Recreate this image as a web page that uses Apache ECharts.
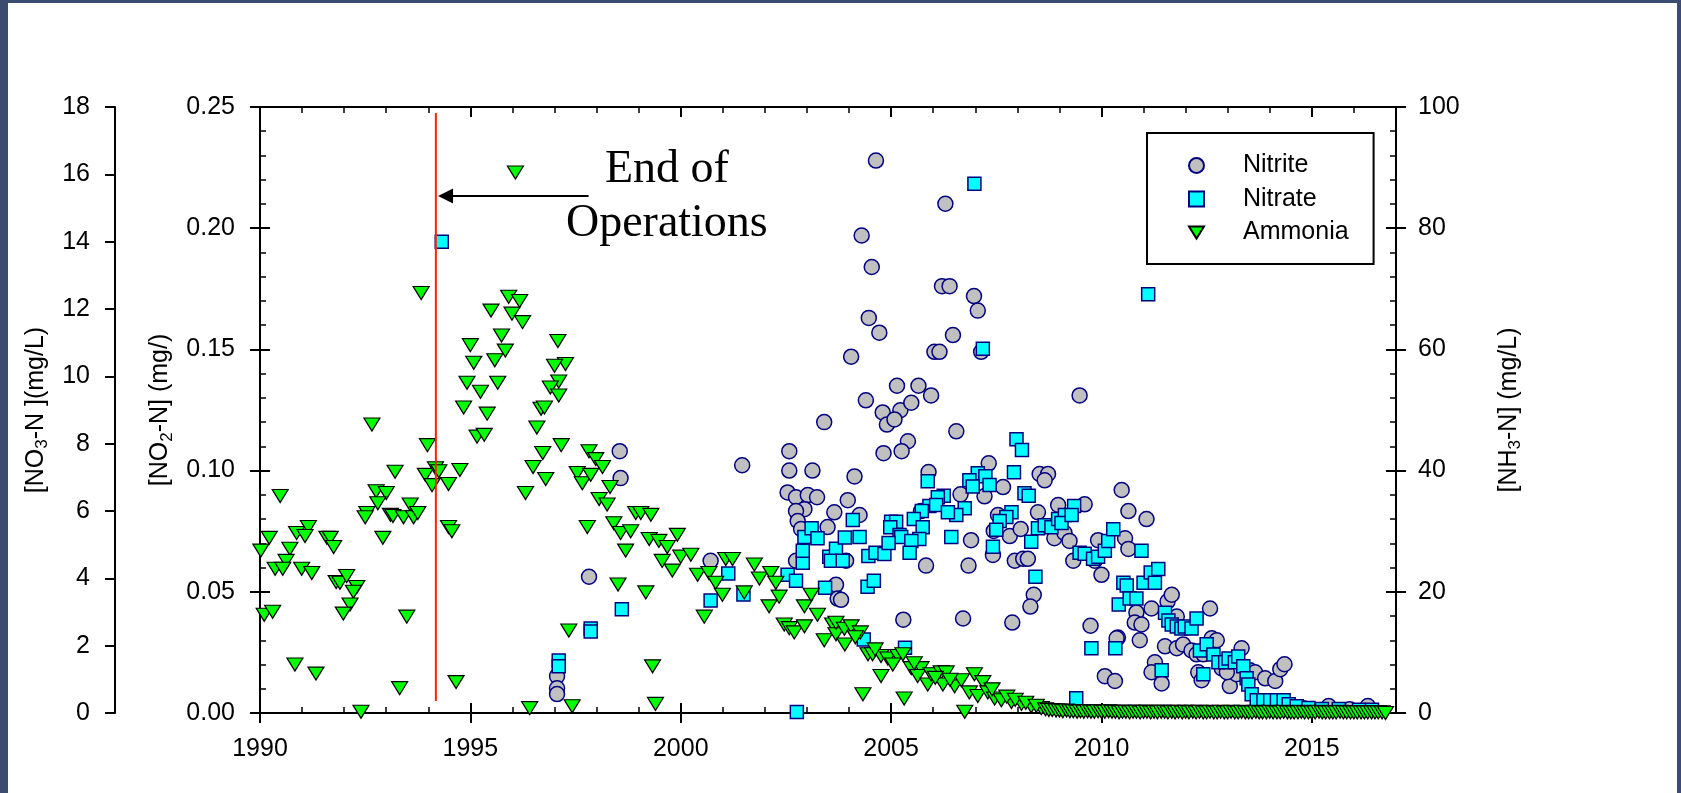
<!DOCTYPE html>
<html>
<head>
<meta charset="utf-8">
<script src="https://cdn.jsdelivr.net/npm/echarts@6/dist/echarts.min.js"></script>
<style>
html, body { margin: 0; padding: 0; width: 1681px; height: 793px; background: #3b4c70; overflow: hidden; }
#main { position: absolute; left: 8px; top: 3px; width: 1669px; height: 790px; background: #fff; }
</style>
</head>
<body>
<div id="main"></div>
<script>
// tick labels on the time axis
const yearTicks = [1990, 1995, 2000, 2005, 2010, 2015];

// [year, NO2-N mg/L]
const nitrite = [
  [1997.06,0.0152],[1997.06,0.0102],[1997.06,0.0078],[1997.82,0.0562],[1998.55,0.108],[1998.57,0.0969],
  [2000.71,0.0628],[2001.46,0.1022],[2002.58,0.108],[2002.58,0.100],[2003.13,0.100],[2002.54,0.091],
  [2002.74,0.089],[2003.02,0.0899],[2003.24,0.089],[2003.41,0.120],[2002.94,0.0841],[2002.74,0.0833],
  [2002.78,0.0792],[2003.49,0.0767],[2003.65,0.0828],[2002.86,0.0759],[2002.74,0.0628],[2003.69,0.0529],
  [2003.73,0.0472],
  [2004.64,0.2279],[2006.29,0.2101],[2004.30,0.1970],[2004.54,0.1840],[2006.21,0.1761],[2006.39,0.1761],
  [2006.97,0.1720],[2007.06,0.1660],[2004.47,0.1630],[2004.72,0.1569],[2006.47,0.1559],[2004.05,0.1470],
  [2006.03,0.1490],[2006.15,0.1490],[2007.14,0.1490],[2005.14,0.1350],[2005.65,0.1350],[2004.40,0.1290],
  [2005.95,0.1310],[2004.80,0.1240],[2005.22,0.1249],[2005.48,0.1280],[2004.90,0.1190],[2005.08,0.1211],
  [2005.40,0.1121],[2005.25,0.1080],[2004.82,0.1072],[2006.55,0.1162],[2009.48,0.1310],[2004.13,0.0976],
  [2005.89,0.0994],[2007.32,0.1030],[2008.53,0.0986],[2008.73,0.0986],[2008.65,0.0960],[2010.48,0.0920],
  [2010.64,0.0833],[2003.97,0.0878],[2004.25,0.0817],[2005.71,0.0833],[2006.65,0.0902],[2007.22,0.0894],
  [2007.66,0.0932],[2007.54,0.0817],[2008.49,0.0828],[2008.97,0.0858],[2009.60,0.0861],[2007.44,0.0751],
  [2007.82,0.0730],[2008.08,0.0759],[2006.90,0.0713],[2008.88,0.0721],[2009.12,0.0743],[2009.24,0.0710],
  [2009.92,0.0713],[2010.56,0.0721],[2010.64,0.0677],[2007.42,0.0652],[2007.94,0.0628],[2008.14,0.0636],
  [2008.25,0.0636],[2009.33,0.0628],[2009.84,0.0628],[2010.00,0.0570],[2005.83,0.0608],[2006.84,0.0608],
  [2003.93,0.0628],[2003.81,0.0467],[2008.39,0.0488],[2008.31,0.0439],[2005.29,0.0385],[2006.71,0.0390],
  [2007.88,0.0373],[2009.74,0.0360],[2010.39,0.0311],[2010.08,0.0152],[2010.32,0.0132],
  [2011.07,0.0800],[2010.83,0.0415],[2010.79,0.0373],[2010.95,0.0365],[2010.91,0.0300],[2010.36,0.0308],
  [2011.19,0.0431],[2011.27,0.0209],[2011.19,0.0168],[2011.43,0.0122],[2011.57,0.0460],[2011.67,0.0488],
  [2011.51,0.0275],[2011.79,0.0267],[2011.79,0.0398],[2011.94,0.0283],[2012.14,0.0258],[2012.26,0.0242],
  [2012.42,0.0242],[2012.58,0.0431],[2012.62,0.0308],[2012.74,0.0300],[2012.30,0.0168],[2012.38,0.0135],
  [2013.05,0.0111],[2013.21,0.0160],[2013.33,0.0267],[2012.86,0.0184],[2012.98,0.0168],[2013.53,0.0176],
  [2013.65,0.0168],[2013.89,0.0143],[2014.13,0.0132],[2014.25,0.0181],[2014.35,0.0201],[2014.80,0.0020],
  [2015.40,0.0029],[2015.90,0.0015],[2016.33,0.0029]
];

// [year, NO3-N mg/L]
const nitrate = [
  [1994.32,14.0],
  [1997.10,1.56],[1997.10,1.39],[1997.86,2.51],[1997.86,2.42],[1998.60,3.08],[2000.71,3.34],[2001.13,4.14],
  [2001.49,3.52],[2002.76,0.03],[2002.54,4.11],[2002.74,3.93],[2002.90,4.46],[2002.90,4.82],[2002.94,5.23],
  [2003.11,5.49],[2003.25,5.19],[2003.43,3.72],[2003.53,4.64],[2003.69,4.88],[2003.57,4.52],
  [2006.98,15.72],[2007.18,10.82],[2007.98,8.13],[2008.11,7.81],[2007.92,7.15],[2005.87,6.88],[2007.06,7.12],
  [2007.24,7.03],[2006.86,6.91],[2006.94,6.73],[2007.34,6.77],[2006.25,6.45],[2006.11,6.41],[2008.17,6.53],
  [2008.27,6.45],[2005.91,6.15],[2006.07,6.18],[2006.75,6.08],[2006.55,5.88],[2006.35,5.96],[2005.73,6.00],
  [2005.54,5.76],[2005.00,5.68],[2005.12,5.68],[2004.98,5.52],[2005.20,5.29],[2005.24,5.23],[2005.75,5.52],
  [2005.67,5.17],[2005.48,5.11],[2005.44,4.76],[2006.43,5.23],[2007.86,5.96],[2007.74,5.82],[2007.58,5.70],
  [2007.50,5.44],[2007.42,4.94],[2008.33,5.09],[2008.43,4.05],[2008.49,5.49],[2008.65,5.58],[2008.81,5.52],
  [2008.97,5.76],[2009.13,5.88],[2009.05,5.64],[2009.35,6.15],[2009.29,5.88],[2009.48,4.76],[2009.60,4.73],
  [2009.80,4.58],[2009.92,4.64],[2010.08,4.82],[2010.16,5.11],[2010.28,5.46],[2010.52,3.87],[2010.60,3.79],
  [2010.41,3.22],[2009.76,1.92],[2010.33,1.92],[2009.40,0.44],[2004.09,5.73],[2003.90,5.21],[2004.25,5.23],
  [2003.85,4.52],[2004.46,4.66],[2004.63,4.76],[2004.84,4.72],[2004.94,5.05],[2004.44,3.75],[2004.59,3.93],
  [2004.35,2.18],[2005.33,1.94],
  [2010.95,4.82],[2010.67,3.40],[2010.83,3.40],[2011.00,3.87],[2011.17,4.17],[2011.35,4.28],[2011.27,3.87],
  [2011.11,12.44],[2011.43,1.27],[2011.51,2.98],[2011.59,2.75],[2011.67,2.63],[2011.79,2.57],[2011.90,2.51],
  [2011.98,2.57],[2012.14,2.51],[2012.26,2.81],[2012.34,1.86],[2012.50,2.04],[2012.42,1.15],[2012.66,1.74],
  [2012.78,1.51],[2012.94,1.51],[2013.02,1.62],[2013.17,1.51],[2013.25,1.68],[2013.37,1.39],[2013.45,1.03],
  [2013.49,0.85],[2013.57,0.56],[2013.69,0.38],[2013.85,0.38],[2014.01,0.38],[2014.17,0.38],[2014.33,0.38],
  [2014.45,0.26],[2014.64,0.20],[2014.92,0.15],[2015.24,0.12],[2015.64,0.12],[2016.12,0.10],[2016.43,0.10]
];

// [year, NH3-N mg/L]
const ammonia = [
  [1996.07,89.2],[1993.83,69.3],[1995.49,66.4],[1995.91,68.7],[1996.17,68.0],[1995.99,65.9],[1996.24,64.5],
  [1995.74,62.3],[1995.00,60.7],[1995.83,59.8],[1995.08,57.8],[1995.58,58.2],[1994.92,54.5],[1995.65,54.5],
  [1995.24,53.0],[1994.84,50.4],[1995.40,49.4],[1995.16,45.6],[1995.33,45.9],[1992.66,47.6],[1993.98,44.2],
  [1993.21,39.8],[1993.93,39.3],[1994.17,40.4],[1994.25,39.9],[1994.09,37.6],[1994.48,37.8],[1994.75,40.1],
  [1992.76,36.6],[1993.00,36.3],[1992.80,34.6],[1992.54,33.0],[1992.50,32.3],[1993.10,32.7],[1993.16,32.5],
  [1993.41,32.3],[1993.57,34.4],[1993.65,32.3],[1993.75,33.0],[1992.92,28.9],[1990.48,35.8],[1990.02,26.8],
  [1990.22,28.9],[1990.87,29.7],[1991.15,30.7],[1991.07,29.2],[1990.71,27.1],[1990.62,25.1],[1990.36,23.8],
  [1990.54,23.8],[1990.99,23.8],[1991.23,23.1],[1991.59,28.9],[1991.67,28.9],[1991.75,27.4],[1991.81,21.6],
  [1991.90,21.5],[1992.06,22.6],[1992.30,20.8],[1992.22,20.0],[1992.14,17.9],[1991.98,16.4],[1990.10,16.2],
  [1990.30,16.7],[1993.49,15.9],[1990.83,8.0],[1991.33,6.5],[1993.32,4.1],[1994.66,5.1],[1992.40,0.2],
  [1996.41,0.8],[1994.48,30.7],[1994.56,30.0],[1996.68,50.2],[1996.58,47.1],[1996.49,40.6],[1996.72,42.9],
  [1996.79,38.6],[1996.31,36.3],
  [1997.08,61.4],[1997.26,57.6],[1997.00,57.3],[1997.10,54.7],[1996.90,53.7],[1997.10,52.4],[1996.76,50.4],
  [1997.16,44.2],[1997.82,43.2],[1997.98,41.9],[1998.14,40.6],[1997.54,39.6],[1997.66,37.9],[1997.86,39.3],
  [1998.32,37.3],[1998.06,35.3],[1998.25,34.4],[1997.78,30.7],[1998.41,31.3],[1998.57,29.7],[1998.81,30.0],
  [1998.69,26.8],[1998.93,33.0],[1999.05,33.0],[1999.29,32.7],[1999.25,28.7],[1999.48,28.4],[1999.68,27.4],
  [1999.92,29.4],[1999.56,25.1],[1999.80,23.5],[2000.00,25.8],[2000.24,26.1],[2000.40,22.8],[2000.56,15.9],
  [2000.67,23.1],[2000.83,21.5],[2000.99,19.5],[2001.07,25.4],[2001.23,25.4],[2001.75,24.5],[2001.51,19.9],
  [2001.87,22.2],[2002.14,23.1],[2002.26,21.5],[2002.10,17.6],[2002.34,19.2],[2002.46,14.6],[2002.58,14.0],
  [2002.70,13.3],[2002.94,14.3],[2002.94,17.6],[2003.10,19.5],[2003.25,16.2],[2003.41,12.0],[2003.61,14.6],
  [2003.69,13.0],[1997.34,13.6],[1998.51,21.2],[1999.17,19.9],[1999.33,7.7],[1997.42,1.1],[1999.40,1.5],
  [2003.69,14.9],[2003.89,13.9],[2004.05,14.3],[2004.27,13.3],[2003.90,11.3],[2004.33,3.1],[2004.76,6.1],
  [2004.45,9.7],[2004.56,9.7],[2004.76,9.4],[2004.92,9.0],[2005.16,9.4],[2005.28,9.7],[2005.04,8.0],
  [2005.31,2.4],[2005.48,7.4],[2005.71,7.4],[2005.63,6.1],[2005.87,4.7],[2005.95,6.4],[2006.19,6.7],
  [2006.31,6.7],[2006.23,4.7],[2006.51,4.4],[2006.75,0.2],[2006.98,6.4],[2007.18,5.1],[2006.67,5.4],
  [2006.86,3.4],[2007.06,2.8],[2007.30,3.4],[2007.46,2.4],[2007.62,2.1],[2007.86,1.8],[2008.10,1.5],
  [2008.33,1.1],[2008.57,0.8],[2004.15,12.5],[2004.62,10.5],[2005.55,8.2],[2006.05,5.8],[2006.40,5.5],
  [2007.40,3.9],[2007.75,2.7],[2007.95,2.2],[2008.20,1.7],[2008.45,1.2],
  [2008.67,0.6],[2008.75,0.5],[2008.83,0.5],[2008.92,0.4],[2009.00,0.4],[2009.08,0.3],[2009.17,0.4],
  [2009.25,0.3],[2009.33,0.3],[2009.42,0.2],[2009.50,0.3],[2009.58,0.2],[2009.67,0.3],[2009.75,0.2],
  [2009.83,0.2],[2009.92,0.3],[2010.00,0.2],[2010.08,0.2],[2010.17,0.3],[2010.25,0.2],[2010.33,0.2],
  [2010.42,0.1],[2010.50,0.2],[2010.58,0.2],[2010.67,0.1],[2010.75,0.2],[2010.83,0.2],[2010.92,0.1],
  [2011.00,0.2],[2011.08,0.2],[2011.17,0.1],[2011.25,0.2],[2011.33,0.1],[2011.42,0.2],[2011.50,0.2],
  [2011.58,0.1],[2011.67,0.2],[2011.75,0.1],[2011.83,0.2],[2011.92,0.1],[2012.00,0.2],[2012.08,0.1],
  [2012.17,0.2],[2012.25,0.1],[2012.33,0.2],[2012.42,0.1],[2012.50,0.1],[2012.58,0.2],[2012.67,0.1],
  [2012.75,0.1],[2012.83,0.2],[2012.92,0.1],[2013.00,0.1],[2013.08,0.2],[2013.17,0.1],[2013.25,0.1],
  [2013.33,0.2],[2013.42,0.1],[2013.50,0.1],[2013.58,0.1],[2013.67,0.2],[2013.75,0.1],[2013.83,0.1],
  [2013.92,0.1],[2014.00,0.2],[2014.08,0.1],[2014.17,0.1],[2014.25,0.1],[2014.33,0.2],[2014.42,0.1],
  [2014.50,0.1],[2014.58,0.1],[2014.67,0.1],[2014.75,0.2],[2014.83,0.1],[2014.92,0.1],[2015.00,0.1],
  [2015.08,0.1],[2015.17,0.2],[2015.25,0.1],[2015.33,0.1],[2015.42,0.1],[2015.50,0.1],[2015.58,0.1],
  [2015.67,0.2],[2015.75,0.1],[2015.83,0.1],[2015.92,0.1],[2016.00,0.1],[2016.08,0.1],[2016.17,0.1],
  [2016.25,0.1],[2016.33,0.1],[2016.42,0.1],[2016.50,0.1],[2016.58,0.1],[2016.67,0.1],[2016.75,0.0]
];

// annotation (year, NH3 scale)
const endOfOps = [[1994.18, 2], [1994.18, 99]];
const arrowFrom = [1997.81, 85.3];
const arrowTo = [1994.41, 85.3];
const noteAt = [1999.67, 85.1];
const noteText = 'End of\nOperations';

const font = 'Liberation Sans, Arial, sans-serif';
const black = '#000';
const line2 = { color: black, width: 2 };
const line15 = { color: black, width: 1.5 };
const tickLabel = { fontSize: 25, color: black, fontFamily: font };
const nameStyle = {
  fontSize: 25, color: black, fontFamily: font, lineHeight: 30,
  rich: { s: { fontSize: 17, color: black, fontFamily: font, verticalAlign: 'bottom', lineHeight: 30 } }
};
const noSplit = { show: false };

function xAx(pos, interval, labels, inside, len, width, showLine) {
  return {
    type: 'value', min: 1990, max: 2017, interval: interval, position: pos,
    axisLine: { show: showLine, onZero: false, lineStyle: line2 },
    axisTick: { show: true, inside: inside, length: len, lineStyle: { color: black, width: width },
                customValues: interval === 5 ? yearTicks : undefined },
    axisLabel: labels ? Object.assign({
      margin: 24, customValues: yearTicks,
      formatter: v => (yearTicks.indexOf(v) >= 0 ? String(v) : '')
    }, tickLabel) : { show: false },
    splitLine: noSplit
  };
}

const chart = echarts.init(document.getElementById('main'));
const option = {
  animation: false,
  backgroundColor: 'transparent',
  grid: { left: 252, right: 281, top: 104, bottom: 80 },
  legend: {
    data: [
      { name: 'Nitrite' },
      { name: 'Nitrate' },
      { name: 'Ammonia', icon: 'path://M0,0L16,0L8,13Z' }
    ],
    orient: 'vertical', left: 1139, top: 130,
    padding: [20, 25, 19, 41],
    itemWidth: 15, itemHeight: 15, itemGap: 8.5,
    borderColor: black, borderWidth: 2,
    textStyle: { fontSize: 25, color: black, fontFamily: font, padding: [0, 0, 0, 34] }
  },
  xAxis: [
    xAx('bottom', 5, true, false, 10, 2, true),
    xAx('bottom', 5, false, true, 10, 2, false),
    xAx('bottom', 1, false, true, 6, 1.5, false),
    xAx('top', 5, false, true, 10, 2, true),
    xAx('top', 1, false, true, 6, 1.5, false)
  ],
  yAxis: [
    { // NO3, outer left
      type: 'value', min: 0, max: 18, interval: 2, position: 'left', offset: 145,
      name: '[NO{s|3}-N ](mg/L)', nameLocation: 'middle', nameRotate: 90, nameGap: 53, nameTextStyle: nameStyle,
      axisLine: { show: true, onZero: false, lineStyle: line2 },
      axisTick: { show: true, length: 10, lineStyle: line2 },
      axisLabel: Object.assign({ margin: 25 }, tickLabel),
      splitLine: noSplit
    },
    { // NO2, inner left
      type: 'value', min: 0, max: 0.25, interval: 0.05, position: 'left', offset: 0,
      name: '[NO{s|2}-N] (mg/)', nameLocation: 'middle', nameRotate: 90, nameGap: 83, nameTextStyle: nameStyle,
      axisLine: { show: true, onZero: false, lineStyle: line2 },
      axisTick: { show: true, length: 10, lineStyle: line2 },
      axisLabel: Object.assign({ margin: 25, formatter: v => v.toFixed(2) }, tickLabel),
      splitLine: noSplit
    },
    { // NO2 inner ticks
      type: 'value', min: 0, max: 0.25, interval: 0.05, position: 'left', offset: 0,
      axisLine: { show: false }, axisLabel: { show: false },
      axisTick: { show: true, inside: true, length: 10, lineStyle: line2 },
      minorTick: { show: true, splitNumber: 5, length: 6, lineStyle: line15 },
      splitLine: noSplit
    },
    { // NH3, right
      type: 'value', min: 0, max: 100, interval: 20, position: 'right', offset: 0,
      name: '[NH{s|3}-N] (mg/L)', nameLocation: 'middle', nameRotate: 90, nameGap: 98, nameTextStyle: nameStyle,
      axisLine: { show: true, onZero: false, lineStyle: line2 },
      axisTick: { show: true, length: 10, lineStyle: line2 },
      axisLabel: Object.assign({ margin: 22 }, tickLabel),
      splitLine: noSplit
    },
    { // NH3 inner ticks
      type: 'value', min: 0, max: 100, interval: 20, position: 'right', offset: 0,
      axisLine: { show: false }, axisLabel: { show: false },
      axisTick: { show: true, inside: true, length: 10, lineStyle: line2 },
      minorTick: { show: true, splitNumber: 5, length: 6, lineStyle: line15 },
      splitLine: noSplit
    }
  ],
  series: [
    {
      name: 'Nitrite', type: 'scatter', xAxisIndex: 0, yAxisIndex: 1, data: nitrite,
      symbol: 'circle', symbolSize: 15,
      itemStyle: { color: '#c0c0c0', borderColor: '#000080', borderWidth: 1.5, opacity: 1 },
      emphasis: { disabled: true }
    },
    {
      name: 'Nitrate', type: 'scatter', xAxisIndex: 0, yAxisIndex: 0, data: nitrate,
      symbol: 'rect', symbolSize: 13,
      itemStyle: { color: '#00ffff', borderColor: '#000080', borderWidth: 1.5, opacity: 1 },
      emphasis: { disabled: true }
    },
    {
      name: 'Ammonia', type: 'scatter', xAxisIndex: 0, yAxisIndex: 3, data: ammonia,
      symbol: 'triangle', symbolRotate: 180, symbolSize: [16, 13],
      itemStyle: { color: '#00ff00', borderColor: black, borderWidth: 1.2, opacity: 1 },
      emphasis: { disabled: true }
    },
    {
      name: 'End of Operations', type: 'line', xAxisIndex: 0, yAxisIndex: 3, data: endOfOps,
      symbol: 'none', silent: true, z: 4,
      lineStyle: { color: '#ff2200', width: 2 },
      markLine: {
        silent: true, symbol: ['none', 'triangle'], symbolSize: 15,
        label: { show: false },
        lineStyle: { color: black, width: 2, type: 'solid' },
        itemStyle: { color: black },
        emphasis: { disabled: true },
        data: [[{ coord: arrowFrom }, { coord: arrowTo }]]
      }
    }
  ]
};
chart.setOption(option);

const p = chart.convertToPixel({ xAxisIndex: 0, yAxisIndex: 3 }, noteAt);
chart.setOption({
  graphic: [{
    type: 'text', x: p[0], y: p[1], silent: true,
    style: { text: noteText, fontFamily: 'Liberation Serif, Times New Roman, serif', fontSize: 46,
             lineHeight: 54, align: 'center', verticalAlign: 'middle', fill: black }
  }]
});
</script>
</body>
</html>
